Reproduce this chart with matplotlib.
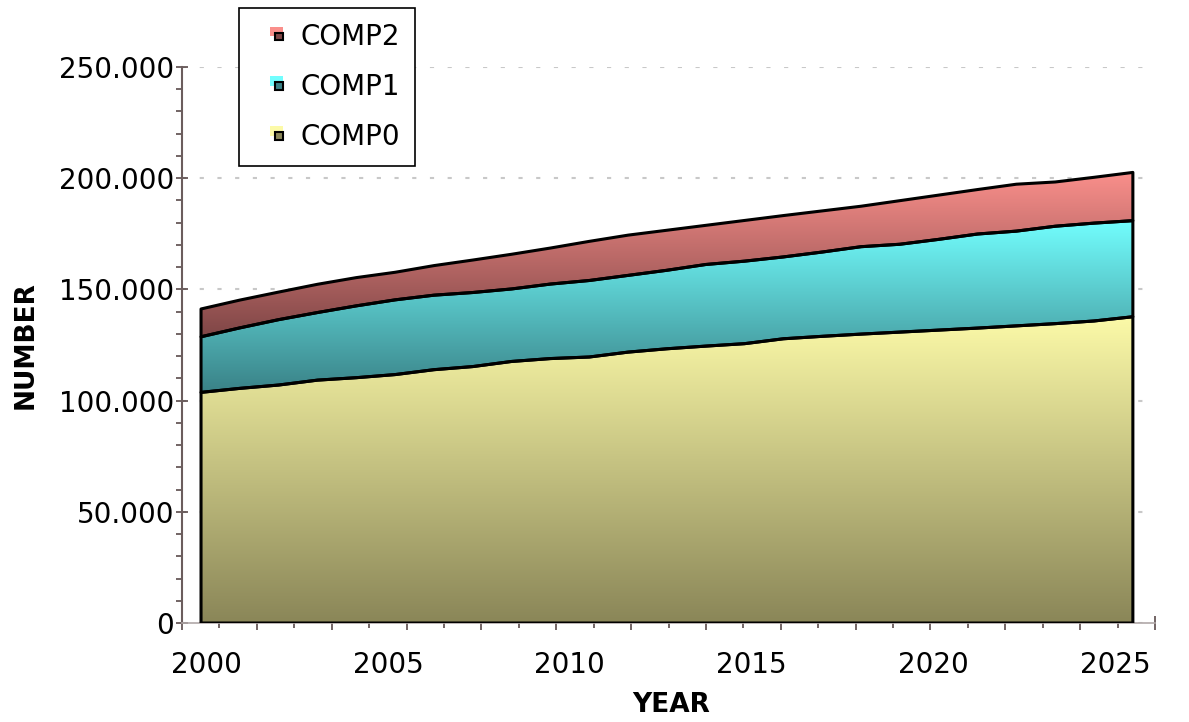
import numpy as np
import matplotlib
matplotlib.use("Agg")
import matplotlib.pyplot as plt
from matplotlib.colors import LinearSegmentedColormap
from matplotlib.legend_handler import HandlerBase
from matplotlib.patches import Patch, Rectangle
from matplotlib.ticker import FuncFormatter, MultipleLocator

# data
years = list(range(2000, 2025))
comp0 = [103700, 105500, 107000, 109200, 110300, 111700, 113900, 115300, 117600,
         118900, 119600, 121800, 123300, 124500, 125600, 127800, 128900, 129900,
         130800, 131700, 132600, 133600, 134600, 135800, 137700]
comp1 = [25000, 27200, 29400, 30400, 32300, 33600, 33500, 33300, 32600, 33500,
         34400, 34500, 35300, 36700, 37100, 36800, 37900, 39300, 39500, 40800,
         42300, 42600, 43800, 44000, 43200]
comp2 = [12500, 12500, 12400, 12700, 12700, 12400, 13300, 14600, 15600, 16200,
         17600, 18100, 18000, 17600, 18300, 18600, 18500, 18200, 19600, 19900,
         20000, 21100, 19900, 20600, 21700]
series_names = ["COMP0", "COMP1", "COMP2"]
year_labels = ["2000", "2005", "2010", "2015", "2020", "2025"]

# (light top, dark bottom) per series
colors = [("#fcfaa8", "#8a8658"), ("#72fefe", "#3a8287"), ("#fa8f8b", "#7f4646")]

plt.rcParams["font.family"] = ["DejaVu Sans"]


class SwatchHandler(HandlerBase):
    def create_artists(self, legend, orig_handle, xdescent, ydescent,
                       width, height, fontsize, trans):
        light = orig_handle.get_facecolor()
        dark = orig_handle.get_edgecolor()
        s = height * 0.5
        x = width - s - 2
        y = height * 0.25
        back = Rectangle((x - 4, y + 3), s + 3, s, facecolor=light,
                         edgecolor="none", transform=trans)
        front = Rectangle((x, y), s * 0.8, s * 0.8, facecolor=dark,
                          edgecolor="black", linewidth=1.5, transform=trans)
        return [back, front]


def gradient_band(ax, x, lower, upper, light, dark):
    poly = ax.fill_between(x, lower, upper, facecolor="none", edgecolor="black",
                           linewidth=2.2, zorder=3)
    cmap = LinearSegmentedColormap.from_list("band", [dark, light])
    grad = np.linspace(0, 1, 256).reshape(-1, 1)
    img = ax.imshow(grad, cmap=cmap, aspect="auto", origin="lower",
                    extent=[x[0], x[-1], min(lower), max(upper)], zorder=2)
    img.set_clip_path(poly.get_paths()[0], transform=ax.transData)


fig = plt.figure(figsize=(11.89, 7.22), dpi=100)
ax = fig.add_axes([182 / 1189, 99 / 722, 973 / 1189, 556 / 722])

x = np.array(years, dtype=float)
base = np.zeros(len(years))
handles = []
for vals, name, (light, dark) in zip([comp0, comp1, comp2], series_names, colors):
    top = base + np.array(vals)
    gradient_band(ax, x, base, top, light, dark)
    handles.append(Patch(facecolor=light, edgecolor=dark, label=name))
    base = top

x0 = years[0] - 0.49
x1 = years[-1] + 0.57
ax.set_xlim(x0, x1)
ax.set_ylim(0, 250000)

# y axis
ax.yaxis.set_major_locator(MultipleLocator(50000))
ax.yaxis.set_minor_locator(MultipleLocator(10000))
ax.yaxis.set_major_formatter(FuncFormatter(lambda v, p: f"{int(v):,}".replace(",", ".")))
ax.tick_params(axis="y", which="major", direction="inout", length=9, width=1.2,
               color="#5a4a4a", labelsize=20, pad=1)
ax.tick_params(axis="y", which="minor", direction="out", length=4, width=1.2,
               color="#5a4a4a")
ax.grid(axis="y", which="major", color="#c8c8c8", linewidth=1.5,
        linestyle=(0, (2, 6.5)), zorder=0.5)

# x axis: long / short tick marks, labels on a secondary axis
ticks = np.linspace(x0, x1, 27)
ax.set_xticks(ticks[::2])
ax.set_xticks(ticks[1::2], minor=True)
ax.set_xticklabels([])
ax.tick_params(axis="x", which="major", direction="inout", length=10, width=1.2,
               color="#5a4a4a")
ax.tick_params(axis="x", which="minor", direction="inout", length=7, width=1.2,
               color="#5a4a4a")
label_pos = x0 + np.linspace(0.025, 0.959, len(year_labels)) * (x1 - x0)
sec = ax.secondary_xaxis("bottom")
sec.set_xticks(label_pos, labels=year_labels)
sec.tick_params(length=0, pad=20, labelsize=20)
sec.spines["bottom"].set_visible(False)

for side in ["top", "right"]:
    ax.spines[side].set_visible(False)
ax.spines["left"].set_color("#6b5d5d")
ax.spines["left"].set_linewidth(1.5)
ax.spines["bottom"].set_color("#b0a8a8")
ax.spines["bottom"].set_linewidth(1.2)

ax.set_xlabel("YEAR", fontsize=19, fontweight="bold", va="center")
ax.xaxis.set_label_coords(0.503, -0.147)
ax.set_ylabel("NUMBER", fontsize=19, fontweight="bold", va="center")
ax.yaxis.set_label_coords(-0.161, 0.5)

leg = fig.legend(handles[::-1], [h.get_label() for h in handles[::-1]],
                 loc="upper left", bbox_to_anchor=(239 / 1189, 1 - 8 / 722),
                 bbox_transform=fig.transFigure, borderaxespad=0, fontsize=20,
                 handler_map={Patch: SwatchHandler()}, handlelength=1.2,
                 handletextpad=0.45, labelspacing=0.78, borderpad=0.55,
                 fancybox=False, framealpha=1, edgecolor="black")
leg.get_frame().set_linewidth(1.2)

fig.savefig("out.png", dpi=100)
